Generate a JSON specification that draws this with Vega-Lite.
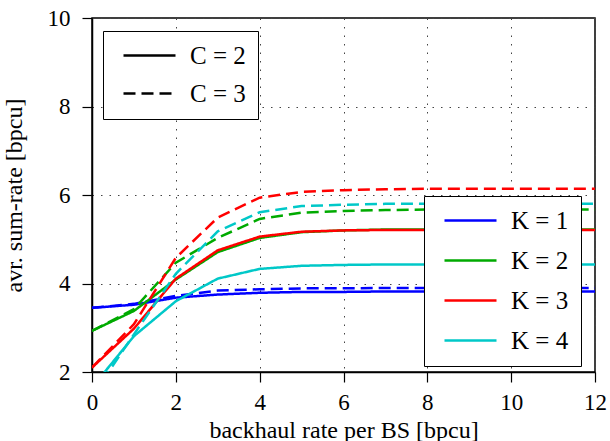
{
  "$schema": "https://vega.github.io/schema/vega-lite/v6.json",
  "autosize": {"type": "none"},
  "padding": {"left": 92, "top": 18, "right": 15, "bottom": 69},
  "width": 503,
  "height": 354,
  "config": {
    "font": "Liberation Serif",
    "view": {"stroke": "black", "strokeWidth": 1.5},
    "axis": {
      "labelFont": "Liberation Serif", "titleFont": "Liberation Serif",
      "labelFontSize": 23, "titleFontSize": 24, "titleFontWeight": "normal",
      "labelColor": "black", "titleColor": "black", "labelFlush": false,
      "domainColor": "black", "tickColor": "black", "tickSize": 10, "domainWidth": 1.5, "tickWidth": 1.2,
      "grid": true, "gridColor": "#444444", "gridDash": [1.5, 7], "gridWidth": 1
    },
    "legend": {
      "labelFont": "Liberation Serif", "labelFontSize": 25, "labelColor": "black",
      "strokeColor": "black", "fillColor": "white", "padding": 12,
      "symbolType": "M-2.6,0H2.6", "symbolSize": 400, "symbolStrokeWidth": 2.5,
      "symbolOffset": 22, "labelOffset": 28,
      "rowPadding": 14, "title": null
    }
  },
  "data": {"values": [
    {"x":0,"y":3.45,"K":"K = 1","C":"C = 2"},{"x":1,"y":3.52,"K":"K = 1","C":"C = 2"},{"x":2,"y":3.68,"K":"K = 1","C":"C = 2"},{"x":3,"y":3.75,"K":"K = 1","C":"C = 2"},{"x":4,"y":3.79,"K":"K = 1","C":"C = 2"},{"x":5,"y":3.81,"K":"K = 1","C":"C = 2"},{"x":6,"y":3.81,"K":"K = 1","C":"C = 2"},{"x":7,"y":3.82,"K":"K = 1","C":"C = 2"},{"x":8,"y":3.82,"K":"K = 1","C":"C = 2"},{"x":9,"y":3.82,"K":"K = 1","C":"C = 2"},{"x":10,"y":3.82,"K":"K = 1","C":"C = 2"},{"x":11,"y":3.82,"K":"K = 1","C":"C = 2"},{"x":12,"y":3.82,"K":"K = 1","C":"C = 2"},
    {"x":0,"y":3.45,"K":"K = 1","C":"C = 3"},{"x":1,"y":3.54,"K":"K = 1","C":"C = 3"},{"x":2,"y":3.72,"K":"K = 1","C":"C = 3"},{"x":3,"y":3.84,"K":"K = 1","C":"C = 3"},{"x":4,"y":3.87,"K":"K = 1","C":"C = 3"},{"x":5,"y":3.89,"K":"K = 1","C":"C = 3"},{"x":6,"y":3.89,"K":"K = 1","C":"C = 3"},{"x":7,"y":3.9,"K":"K = 1","C":"C = 3"},{"x":8,"y":3.9,"K":"K = 1","C":"C = 3"},{"x":9,"y":3.9,"K":"K = 1","C":"C = 3"},{"x":10,"y":3.9,"K":"K = 1","C":"C = 3"},{"x":11,"y":3.9,"K":"K = 1","C":"C = 3"},{"x":12,"y":3.9,"K":"K = 1","C":"C = 3"},
    {"x":0,"y":2.93,"K":"K = 2","C":"C = 2"},{"x":1,"y":3.38,"K":"K = 2","C":"C = 2"},{"x":2,"y":4.09,"K":"K = 2","C":"C = 2"},{"x":3,"y":4.71,"K":"K = 2","C":"C = 2"},{"x":4,"y":5.03,"K":"K = 2","C":"C = 2"},{"x":5,"y":5.16,"K":"K = 2","C":"C = 2"},{"x":6,"y":5.2,"K":"K = 2","C":"C = 2"},{"x":7,"y":5.22,"K":"K = 2","C":"C = 2"},{"x":8,"y":5.22,"K":"K = 2","C":"C = 2"},{"x":9,"y":5.22,"K":"K = 2","C":"C = 2"},{"x":10,"y":5.22,"K":"K = 2","C":"C = 2"},{"x":11,"y":5.22,"K":"K = 2","C":"C = 2"},{"x":12,"y":5.22,"K":"K = 2","C":"C = 2"},
    {"x":0,"y":2.93,"K":"K = 2","C":"C = 3"},{"x":1,"y":3.42,"K":"K = 2","C":"C = 3"},{"x":2,"y":4.47,"K":"K = 2","C":"C = 3"},{"x":3,"y":5.03,"K":"K = 2","C":"C = 3"},{"x":4,"y":5.46,"K":"K = 2","C":"C = 3"},{"x":5,"y":5.6,"K":"K = 2","C":"C = 3"},{"x":6,"y":5.64,"K":"K = 2","C":"C = 3"},{"x":7,"y":5.66,"K":"K = 2","C":"C = 3"},{"x":8,"y":5.67,"K":"K = 2","C":"C = 3"},{"x":9,"y":5.67,"K":"K = 2","C":"C = 3"},{"x":10,"y":5.67,"K":"K = 2","C":"C = 3"},{"x":11,"y":5.67,"K":"K = 2","C":"C = 3"},{"x":12,"y":5.67,"K":"K = 2","C":"C = 3"},
    {"x":0,"y":2.1,"K":"K = 3","C":"C = 2"},{"x":1,"y":2.98,"K":"K = 3","C":"C = 2"},{"x":2,"y":4.11,"K":"K = 3","C":"C = 2"},{"x":3,"y":4.75,"K":"K = 3","C":"C = 2"},{"x":4,"y":5.06,"K":"K = 3","C":"C = 2"},{"x":5,"y":5.17,"K":"K = 3","C":"C = 2"},{"x":6,"y":5.2,"K":"K = 3","C":"C = 2"},{"x":7,"y":5.21,"K":"K = 3","C":"C = 2"},{"x":8,"y":5.21,"K":"K = 3","C":"C = 2"},{"x":9,"y":5.21,"K":"K = 3","C":"C = 2"},{"x":10,"y":5.21,"K":"K = 3","C":"C = 2"},{"x":11,"y":5.21,"K":"K = 3","C":"C = 2"},{"x":12,"y":5.21,"K":"K = 3","C":"C = 2"},
    {"x":0,"y":2.1,"K":"K = 3","C":"C = 3"},{"x":1,"y":3.08,"K":"K = 3","C":"C = 3"},{"x":2,"y":4.58,"K":"K = 3","C":"C = 3"},{"x":3,"y":5.49,"K":"K = 3","C":"C = 3"},{"x":4,"y":5.94,"K":"K = 3","C":"C = 3"},{"x":5,"y":6.07,"K":"K = 3","C":"C = 3"},{"x":6,"y":6.11,"K":"K = 3","C":"C = 3"},{"x":7,"y":6.13,"K":"K = 3","C":"C = 3"},{"x":8,"y":6.14,"K":"K = 3","C":"C = 3"},{"x":9,"y":6.14,"K":"K = 3","C":"C = 3"},{"x":10,"y":6.14,"K":"K = 3","C":"C = 3"},{"x":11,"y":6.14,"K":"K = 3","C":"C = 3"},{"x":12,"y":6.14,"K":"K = 3","C":"C = 3"},
    {"x":0,"y":1.65,"K":"K = 4","C":"C = 2"},{"x":1,"y":2.81,"K":"K = 4","C":"C = 2"},{"x":2,"y":3.6,"K":"K = 4","C":"C = 2"},{"x":3,"y":4.11,"K":"K = 4","C":"C = 2"},{"x":4,"y":4.33,"K":"K = 4","C":"C = 2"},{"x":5,"y":4.4,"K":"K = 4","C":"C = 2"},{"x":6,"y":4.42,"K":"K = 4","C":"C = 2"},{"x":7,"y":4.43,"K":"K = 4","C":"C = 2"},{"x":8,"y":4.43,"K":"K = 4","C":"C = 2"},{"x":9,"y":4.43,"K":"K = 4","C":"C = 2"},{"x":10,"y":4.43,"K":"K = 4","C":"C = 2"},{"x":11,"y":4.43,"K":"K = 4","C":"C = 2"},{"x":12,"y":4.43,"K":"K = 4","C":"C = 2"},
    {"x":0,"y":1.45,"K":"K = 4","C":"C = 3"},{"x":1,"y":2.85,"K":"K = 4","C":"C = 3"},{"x":2,"y":4.22,"K":"K = 4","C":"C = 3"},{"x":3,"y":5.18,"K":"K = 4","C":"C = 3"},{"x":4,"y":5.61,"K":"K = 4","C":"C = 3"},{"x":5,"y":5.75,"K":"K = 4","C":"C = 3"},{"x":6,"y":5.78,"K":"K = 4","C":"C = 3"},{"x":7,"y":5.8,"K":"K = 4","C":"C = 3"},{"x":8,"y":5.8,"K":"K = 4","C":"C = 3"},{"x":9,"y":5.8,"K":"K = 4","C":"C = 3"},{"x":10,"y":5.8,"K":"K = 4","C":"C = 3"},{"x":11,"y":5.8,"K":"K = 4","C":"C = 3"},{"x":12,"y":5.8,"K":"K = 4","C":"C = 3"}
  ]},
  "mark": {"type": "line", "strokeWidth": 2.5, "clip": true},
  "encoding": {
    "x": {"field": "x", "type": "quantitative", "scale": {"domain": [0, 12], "nice": false},
          "axis": {"values": [0,2,4,6,8,10,12], "title": "backhaul rate per BS [bpcu]", "titlePadding": 4, "labelPadding": 9,
                   "labelFont": "Liberation Serif", "titleFont": "Liberation Serif", "labelFlush": false}},
    "y": {"field": "y", "type": "quantitative", "scale": {"domain": [2, 10], "nice": false, "zero": false},
          "axis": {"values": [2,4,6,8,10], "title": "avr. sum-rate [bpcu]", "titlePadding": 21, "labelPadding": 12,
                   "labelFont": "Liberation Serif", "titleFont": "Liberation Serif", "labelFlush": false}},
    "color": {"field": "K", "type": "nominal",
              "scale": {"domain": ["K = 1","K = 2","K = 3","K = 4"], "range": ["#0000ff","#00aa00","#ff0000","#00c8c8"]},
              "legend": {"orient": "none", "legendX": 332, "legendY": 178, "labelFont": "Liberation Serif", "labelExpr": "datum.label + '\u00a0'"}},
    "strokeDash": {"field": "C", "type": "nominal",
                   "scale": {"domain": ["C = 2","C = 3"], "range": [[1,0],[12,6]]},
                   "legend": {"orient": "none", "legendX": 11, "legendY": 13, "symbolStrokeColor": "black", "labelFont": "Liberation Serif", "rowPadding": 12, "labelExpr": "datum.label + '\u00a0\u00a0\u00a0'"}}
  }
}
